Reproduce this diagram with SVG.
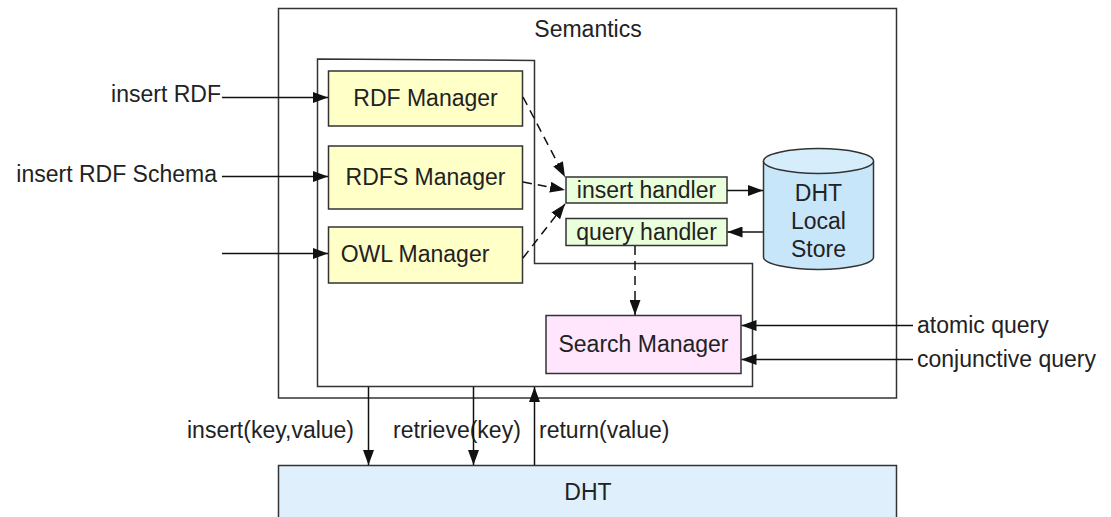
<svg xmlns="http://www.w3.org/2000/svg" width="1111" height="517" viewBox="0 0 1111 517">
<style>
text{font-family:"Liberation Sans",Arial,sans-serif;font-size:23px;fill:#222}
.c{text-anchor:middle}
.e{text-anchor:end}
.box{stroke:#333;stroke-width:1.5}
.ln{stroke:#111;stroke-width:1.5;fill:none}
.dash{stroke-dasharray:9,6}
</style>
<defs>
<marker id="ah" viewBox="0 0 15 11" refX="15" refY="5.5" markerWidth="15" markerHeight="11" markerUnits="userSpaceOnUse" orient="auto">
<path d="M0,0 L15,5.5 L0,11 Z" fill="#111"/>
</marker>
</defs>
<g id="semantics">
<rect x="278.5" y="8.5" width="618" height="389.5" fill="#fff" class="box"/>
<text class="c" x="588" y="37">Semantics</text>
</g>
<g id="inner">
<path d="M317.5,59 L534.5,60.5 L534.5,263.5 L752.5,263.5 L752.5,386.5 L317.5,386.5 Z" fill="none" class="box"/>
</g>
<g id="dht">
<rect x="278.5" y="465.5" width="618" height="60" fill="#dff0fc" class="box"/>
<text class="c" x="588" y="500">DHT</text>
</g>
<g id="rdf">
<rect x="328.5" y="71" width="194" height="55" fill="#ffffc8" class="box"/>
<text class="c" x="425.5" y="106">RDF Manager</text>
</g>
<g id="rdfs">
<rect x="328.5" y="146" width="194" height="63" fill="#ffffc8" class="box"/>
<text class="c" x="425.5" y="185">RDFS Manager</text>
</g>
<g id="owl">
<rect x="328.5" y="227" width="194" height="56" fill="#ffffc8" class="box"/>
<text class="c" x="415" y="262">OWL Manager</text>
</g>
<g id="insert-handler">
<rect x="566" y="177" width="161" height="26" fill="#eaffdc" class="box"/>
<text class="c" x="646.5" y="198">insert handler</text>
</g>
<g id="query-handler">
<rect x="566" y="218.5" width="161" height="27" fill="#eaffdc" class="box"/>
<text class="c" x="646.5" y="240">query handler</text>
</g>
<g id="store">
<path d="M763.5,161 L763.5,257 A55,12.5 0 0 0 873.5,257 L873.5,161" fill="#c8e6fa" class="box"/>
<ellipse cx="818.5" cy="161" rx="55" ry="12.5" fill="#d6eefc" class="box"/>
<text class="c" x="818.5" y="201">DHT</text>
<text class="c" x="818.5" y="229">Local</text>
<text class="c" x="818.5" y="257">Store</text>
</g>
<g id="search">
<rect x="546" y="315.5" width="195" height="58" fill="#ffe6fc" class="box"/>
<text class="c" x="643.5" y="352">Search Manager</text>
</g>
<g id="labels">
<text class="e" x="221" y="102">insert RDF</text>
<text class="e" x="217" y="182">insert RDF Schema</text>
<text x="917" y="333">atomic query</text>
<text x="917" y="367">conjunctive query</text>
<text x="187" y="438">insert(key,value)</text>
<text x="393" y="438">retrieve(key)</text>
<text x="539" y="438">return(value)</text>
</g>
<g id="connectors">
<line class="ln" x1="222" y1="97.5" x2="328" y2="97.5" marker-end="url(#ah)"/>
<line class="ln" x1="222" y1="176.5" x2="328" y2="176.5" marker-end="url(#ah)"/>
<line class="ln" x1="222" y1="253.5" x2="328" y2="253.5" marker-end="url(#ah)"/>
<line class="ln dash" x1="523" y1="97" x2="565" y2="177" marker-end="url(#ah)"/>
<line class="ln dash" x1="523" y1="182" x2="565" y2="190" marker-end="url(#ah)"/>
<line class="ln dash" x1="523" y1="258" x2="565" y2="204" marker-end="url(#ah)"/>
<line class="ln" x1="727" y1="190.5" x2="763" y2="190.5" marker-end="url(#ah)"/>
<line class="ln" x1="763" y1="232" x2="727.5" y2="232" marker-end="url(#ah)"/>
<line class="ln dash" x1="635" y1="246" x2="635" y2="315" marker-end="url(#ah)"/>
<line class="ln" x1="913" y1="325.5" x2="741.5" y2="325.5" marker-end="url(#ah)"/>
<line class="ln" x1="913" y1="359.5" x2="741.5" y2="359.5" marker-end="url(#ah)"/>
<line class="ln" x1="368.5" y1="387" x2="368.5" y2="465" marker-end="url(#ah)"/>
<line class="ln" x1="473.5" y1="387" x2="473.5" y2="465" marker-end="url(#ah)"/>
<line class="ln" x1="534.5" y1="465" x2="534.5" y2="387" marker-end="url(#ah)"/>
</g>
</svg>
